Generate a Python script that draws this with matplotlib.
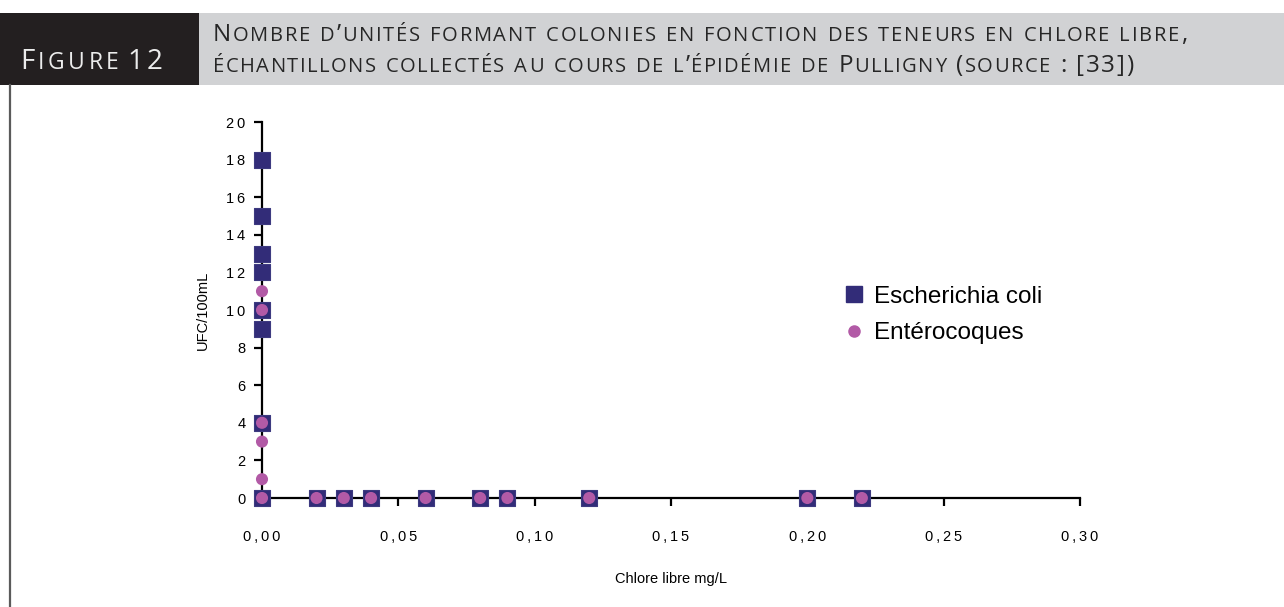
import numpy as np
import matplotlib
matplotlib.use("Agg")
import matplotlib.pyplot as plt
from matplotlib.lines import Line2D
from matplotlib.patches import Rectangle

# data
chlore_ecoli = [0, 0, 0, 0, 0, 0, 0, 0, 0.02, 0.03, 0.04, 0.06, 0.08, 0.09, 0.12, 0.20, 0.22]
ufc_ecoli = [18, 15, 13, 12, 10, 9, 4, 0, 0, 0, 0, 0, 0, 0, 0, 0, 0]
chlore_entero = [0, 0, 0, 0, 0, 0, 0.02, 0.03, 0.04, 0.06, 0.08, 0.09, 0.12, 0.20, 0.22]
ufc_entero = [11, 10, 4, 3, 1, 0, 0, 0, 0, 0, 0, 0, 0, 0, 0]
x_ticks = [0, 0.05, 0.10, 0.15, 0.20, 0.25, 0.30]
y_ticks = list(range(0, 21, 2))

title1 = "Nombre d\u2019unit\u00e9s formant colonies en fonction des teneurs en chlore libre,"
title2 = "\u00e9chantillons collect\u00e9s au cours de l\u2019\u00e9pid\u00e9mie de Pulligny (source : [33])"
fig_label = "Figure 12"

W, H = 1284, 607
fig = plt.figure(figsize=(W / 100, H / 100), dpi=100)
renderer = fig.canvas.get_renderer()

# header band
fig.patches.append(Rectangle((0, 1 - 85 / H), 199 / W, 72 / H, transform=fig.transFigure,
                             facecolor="#231f20", edgecolor="none"))
fig.patches.append(Rectangle((199 / W, 1 - 85 / H), 1 - 199 / W, 72 / H, transform=fig.transFigure,
                             facecolor="#d1d2d4", edgecolor="none"))
fig.add_artist(Line2D([10 / W, 10 / W], [0, 1 - 85 / H], transform=fig.transFigure,
                      color="#5a5a5a", lw=1.6))

title_font = ["Open Sans", "DejaVu Sans"]


def small_caps(x0, x1, y, s, big, small, color, word_gap=10):
    # small caps drawn letter by letter, spread between x0 and x1 (pixels)
    items = []
    for ch in s:
        if ch == " ":
            items.append(None)
            continue
        size = small if ch.islower() else big
        t = fig.text(0, 1 - y / H, ch.upper(), fontsize=size, color=color,
                     family=title_font, weight="medium", va="baseline", ha="left")
        items.append((t, t.get_window_extent(renderer).width))
    letters = [it for it in items if it is not None]
    n_space = items.count(None)
    n_gaps = len(items) - 1 - 2 * n_space
    ink = sum(w for _, w in letters)
    gap = (x1 - x0 - ink - n_space * word_gap) / n_gaps
    x = x0
    for it in items:
        if it is None:
            x += word_gap - gap
            continue
        t, w = it
        t.set_x(x / W)
        x += w + gap


small_caps(20, 163, 69, fig_label, 20, 16.5, "#ececec", word_gap=9)
small_caps(213, 1187, 41, title1, 17.5, 14.5, "#262626")
small_caps(213, 1133, 72, title2, 17.5, 14.5, "#262626")

# plot area
ax = fig.add_axes([262 / W, 1 - 498 / H, (1080 - 262) / W, (498 - 122) / H])
ax.scatter(chlore_ecoli, ufc_ecoli, marker="s", s=120, color="#322c78",
           edgecolors="#3d3a80", linewidths=0.8, zorder=3, clip_on=False,
           label="Escherichia coli")
ax.scatter(chlore_entero, ufc_entero, marker="o", s=76, color="#b25aa6",
           edgecolors="none", zorder=4, clip_on=False, label="Ent\u00e9rocoques")

ax.set_xlim(0, 0.30)
ax.set_ylim(0, 20)
ax.set_xticks(x_ticks)
ax.set_yticks(y_ticks)
sp = "\u2009"
ax.set_xticklabels([sp.join(f"{v:.2f}".replace(".", ",")) for v in x_ticks])
ax.set_yticklabels([sp.join(str(v)) for v in y_ticks])
for side in ["top", "right"]:
    ax.spines[side].set_visible(False)
for side in ["left", "bottom"]:
    ax.spines[side].set_linewidth(1.6)
ax.tick_params(direction="out", length=6, width=1.6, labelsize=10.5)
ax.tick_params(axis="x", pad=17)
ax.tick_params(axis="y", pad=6)
for lab in ax.get_xticklabels() + ax.get_yticklabels():
    lab.set_family(["Liberation Sans", "DejaVu Sans"])

ax.set_xlabel("Chlore libre mg/L", fontsize=10.5, family="Liberation Sans", labelpad=20)
ax.set_ylabel("UFC/100mL", fontsize=10.5, family="Liberation Sans", labelpad=12)

handles = [
    Line2D([], [], marker="s", ls="none", color="#322c78", markersize=11),
    Line2D([], [], marker="o", ls="none", color="#b25aa6", markersize=8),
]
ax.legend(handles, ["Escherichia coli", "Ent\u00e9rocoques"], loc="upper left",
          bbox_to_anchor=((824 - 262) / (1080 - 262), (498 - 264) / (498 - 122)),
          frameon=False, handlelength=0.7, handletextpad=0.45,
          labelspacing=0.6, prop={"family": "Liberation Sans", "size": 17.5})

fig.savefig("out.png", dpi=100)
